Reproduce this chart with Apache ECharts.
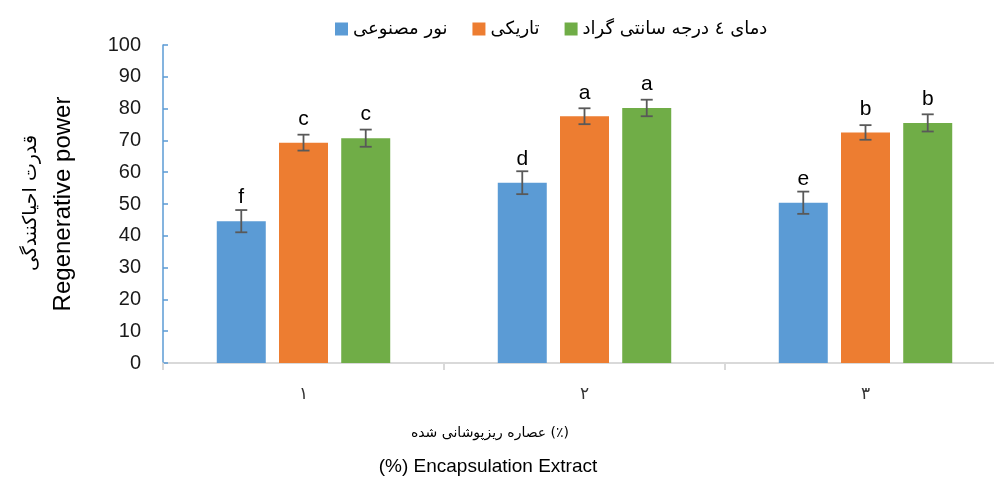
<!DOCTYPE html>
<html>
<head>
<meta charset="utf-8">
<script src="https://cdn.jsdelivr.net/npm/echarts@6/dist/echarts.min.js"></script>
<style>
  html, body { margin: 0; padding: 0; background: #fff; }
  #main { width: 994px; height: 479px; }
</style>
</head>
<body>
<div id="main"></div>
<script>
const categories = ["۱", "۲", "۳"];
const seriesNames = ["نور مصنوعی", "تاریکی", "دمای ٤ درجه سانتی گراد"];
const colors = ["#5B9BD5", "#ED7D31", "#70AD47"];

const lightValues = [44.6, 56.7, 50.4];
const darkValues = [69.3, 77.6, 72.5];
const coldValues = [70.7, 80.2, 75.5];

const lightErr = [3.5, 3.6, 3.5];
const darkErr = [2.5, 2.5, 2.3];
const coldErr = [2.7, 2.6, 2.7];

const lightLetters = ["f", "d", "e"];
const darkLetters = ["c", "a", "b"];
const coldLetters = ["c", "a", "b"];

const yTicks = [0, 10, 20, 30, 40, 50, 60, 70, 80, 90, 100];

const values = [lightValues, darkValues, coldValues];
const errors = [lightErr, darkErr, coldErr];
const letters = [lightLetters, darkLetters, coldLetters];

const BAR_W = 49;
const BAR_GAP = 0.27; // fraction of bar width
const STEP = BAR_W * (1 + BAR_GAP);

const chart = echarts.init(document.getElementById("main"));

const barSeries = values.map((vals, i) => ({
  name: seriesNames[i],
  type: "bar",
  data: vals,
  barWidth: BAR_W,
  barGap: BAR_GAP * 100 + "%",
  itemStyle: { color: colors[i] },
  label: {
    show: true,
    position: "top",
    distance: 13,
    formatter: (p) => letters[i][p.dataIndex],
    color: "#000",
    fontSize: 21,
    fontFamily: "Liberation Sans",
  },
}));

const errSeries = values.map((vals, i) => ({
  name: seriesNames[i] + " err",
  type: "custom",
  z: 5,
  silent: true,
  data: vals.map((v, k) => [k, v, errors[i][k]]),
  encode: { x: 0, y: 1 },
  renderItem: (params, api) => {
    const k = api.value(0);
    const v = api.value(1);
    const e = api.value(2);
    const hi = api.coord([k, v + e]);
    const lo = api.coord([k, v - e]);
    const x = hi[0] + (i - 1) * STEP;
    const cap = 6;
    const style = { stroke: "#595959", lineWidth: 1.8 };
    return {
      type: "group",
      children: [
        { type: "line", shape: { x1: x, y1: hi[1], x2: x, y2: lo[1] }, style },
        { type: "line", shape: { x1: x - cap, y1: hi[1], x2: x + cap, y2: hi[1] }, style },
        { type: "line", shape: { x1: x - cap, y1: lo[1], x2: x + cap, y2: lo[1] }, style },
      ],
    };
  },
}));

const option = {
  animation: false,
  // plot runs past the right edge of the window, as in the original
  grid: { left: 163, right: -12, top: 45, bottom: 116, outerBoundsMode: "none", containLabel: false },
  legend: {
    data: seriesNames,
    left: 330,
    top: 15,
    itemWidth: 13,
    itemHeight: 13,
    itemGap: 25,
    icon: "rect",
    textStyle: { fontFamily: "DejaVu Sans", fontSize: 18, color: "#000" },
  },
  xAxis: {
    type: "category",
    data: categories,
    axisLine: { lineStyle: { color: "#D9D9D9", width: 2 } },
    axisTick: { show: true, length: 7, lineStyle: { color: "#D9D9D9", width: 2 } },
    axisLabel: { fontFamily: "DejaVu Sans", fontSize: 17, color: "#333", margin: 23 },
  },
  yAxis: {
    type: "value",
    min: yTicks[0],
    max: yTicks[yTicks.length - 1],
    interval: 10,
    splitLine: { show: false },
    axisLine: { show: true, lineStyle: { color: "#5B9BD5", width: 1.5 } },
    axisTick: { show: true, inside: true, length: 5, lineStyle: { color: "#5B9BD5", width: 1.5 } },
    axisLabel: { fontFamily: "Liberation Sans", fontSize: 20, color: "#1a1a1a", margin: 22 },
  },
  graphic: [
    {
      type: "text",
      x: 63, y: 204,
      rotation: Math.PI / 2,
      style: {
        text: "Regenerative power",
        fontFamily: "Liberation Sans",
        fontSize: 24,
        fill: "#000",
        align: "center",
        verticalAlign: "middle",
      },
    },
    {
      type: "text",
      x: 31, y: 203,
      rotation: Math.PI / 2,
      style: {
        text: "قدرت احیاکنندگی",
        fontFamily: "DejaVu Sans",
        fontSize: 19,
        fill: "#000",
        align: "center",
        verticalAlign: "middle",
      },
    },
    {
      type: "text",
      x: 490, y: 433,
      style: {
        text: "عصاره ریزپوشانی شده (٪)",
        fontFamily: "DejaVu Sans",
        fontSize: 14,
        fill: "#000",
        align: "center",
        verticalAlign: "middle",
      },
    },
    {
      type: "text",
      x: 488, y: 467,
      style: {
        text: "(%) Encapsulation Extract",
        fontFamily: "Liberation Sans",
        fontSize: 19,
        fill: "#000",
        align: "center",
        verticalAlign: "middle",
      },
    },
  ],
  series: [...barSeries, ...errSeries],
};

chart.setOption(option);
</script>
</body>
</html>
